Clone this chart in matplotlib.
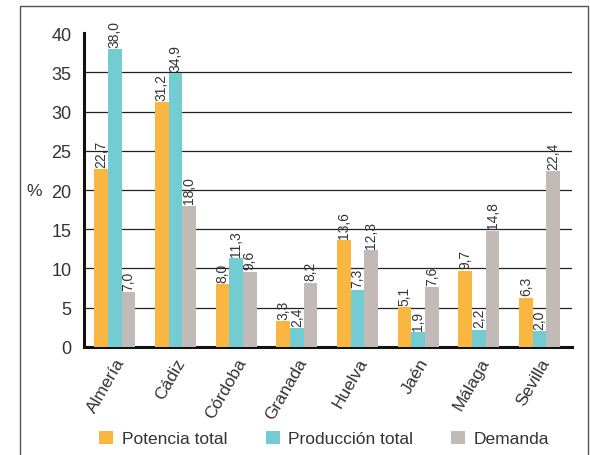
import matplotlib
matplotlib.use("Agg")
import matplotlib.pyplot as plt
import numpy as np
from matplotlib.patches import Rectangle

plt.rcParams['font.family'] = ['Liberation Sans', 'DejaVu Sans']

# Data
provincias = ["Almería", "Cádiz", "Córdoba", "Granada", "Huelva", "Jaén", "Málaga", "Sevilla"]
potencia = [22.7, 31.2, 8.0, 3.3, 13.6, 5.1, 9.7, 6.3]
produccion = [38.0, 34.9, 11.3, 2.4, 7.3, 1.9, 2.2, 2.0]
demanda = [7.0, 18.0, 9.6, 8.2, 12.3, 7.6, 14.8, 22.4]
series_names = ["Potencia total", "Producción total", "Demanda"]
y_ticks = [0, 5, 10, 15, 20, 25, 30, 35, 40]

colors = ["#F9B641", "#74CCD3", "#C2BAB6"]
text_col = "#333333"

fig = plt.figure(figsize=(5.9, 4.56), dpi=100)
ax = fig.add_axes([0.142, 0.237, 0.827, 0.688])

# outer frame
fig.patches.append(Rectangle((0.034, -0.01), 0.962, 0.995, transform=fig.transFigure,
                             fill=False, edgecolor="#555555", linewidth=1.0))

x = np.arange(len(provincias))
w = 0.225
for i, (vals, col) in enumerate(zip([potencia, produccion, demanda], colors)):
    pos = x + (i - 1) * w
    ax.bar(pos, vals, width=w, color=col, label=series_names[i], zorder=3)
    for px, v in zip(pos, vals):
        ax.text(px, v + 0.3, f"{v:.1f}".replace(".", ","), rotation=90,
                ha="center", va="bottom", fontsize=10, color=text_col, zorder=4)

ax.set_ylim(0, 40)
ax.set_xlim(-0.51, 7.53)
ax.set_yticks(y_ticks)
ax.set_yticklabels([str(t) for t in y_ticks], fontsize=13, color=text_col)
for t in y_ticks[1:-1]:
    ax.axhline(t, color="#222222", linewidth=0.9, zorder=1)

ax.set_xticks(x)
ax.set_xticklabels(provincias, rotation=60, ha="right", rotation_mode="anchor",
                   fontsize=12.5, color=text_col)
ax.tick_params(length=0)
ax.tick_params(axis="x", pad=6)
ax.tick_params(axis="y", pad=9)

for s in ["top", "right"]:
    ax.spines[s].set_visible(False)
ax.spines["left"].set_linewidth(2.2)
ax.spines["bottom"].set_linewidth(2.2)
ax.spines["left"].set_color("#111111")
ax.spines["bottom"].set_color("#111111")

fig.text(0.058, 0.58, "%", fontsize=12.5, color=text_col, ha="center", va="center")

leg = fig.legend(loc="lower center", bbox_to_anchor=(0.55, -0.015), ncol=3, frameon=False,
                 fontsize=12.5, handlelength=0.8, handleheight=0.8, columnspacing=2.2,
                 handletextpad=0.5)
for t in leg.get_texts():
    t.set_color(text_col)

fig.savefig("out.png", dpi=100)
